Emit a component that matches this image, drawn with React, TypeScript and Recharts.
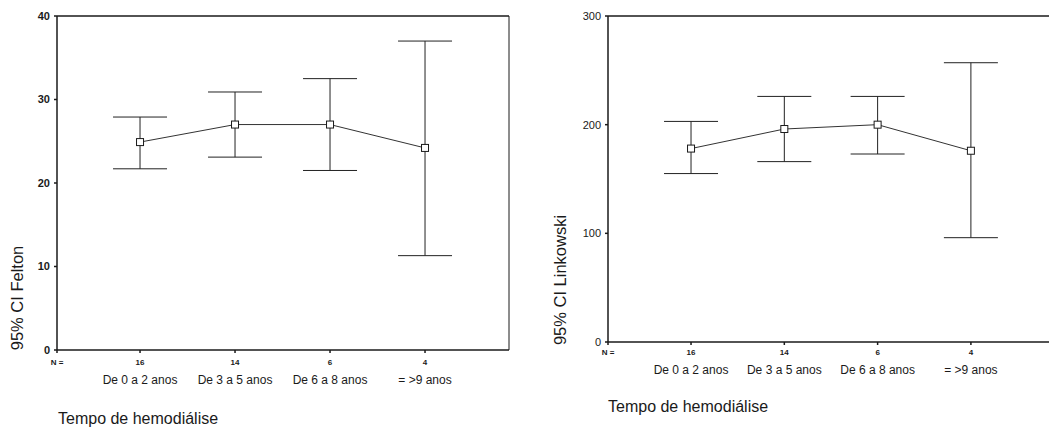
import { ComposedChart, Line, XAxis, YAxis, ErrorBar, ReferenceLine } from "recharts";

const categories = ["De 0 a 2 anos", "De 3 a 5 anos", "De 6 a 8 anos", "= >9 anos"];
const counts = [16, 14, 6, 4];

// Felton: 95% CI
const feltonMean = [24.9, 27.0, 27.0, 24.2];
const feltonLow = [21.7, 23.1, 21.5, 11.3];
const feltonHigh = [27.9, 30.9, 32.5, 37.0];
const feltonTicks = [0, 10, 20, 30, 40];

// Linkowski: 95% CI
const linkMean = [178, 196, 200, 176];
const linkLow = [155, 166, 173, 96];
const linkHigh = [203, 226, 226, 257];
const linkTicks = [0, 100, 200, 300];

const FONT = "'Liberation Sans', Arial, sans-serif";
const INK = "#1a1a1a";

function buildRows(mean: number[], low: number[], high: number[]) {
  return categories.map((c, i) => ({
    x: i + 1,
    name: c,
    mean: mean[i],
    err: [mean[i] - low[i], high[i] - mean[i]],
  }));
}

const SquareDot = (props: any) => {
  const { cx, cy } = props;
  if (cx == null || cy == null) return null;
  return <rect x={cx - 3.5} y={cy - 3.5} width={7} height={7} fill="#fff" stroke={INK} strokeWidth={1} />;
};

function makeTick(nDy: number, catDy: number) {
  return (props: any) => {
    const { x, y, payload } = props;
    const v = payload.value;
    if (v < 0.5) {
      return (
        <text x={x} y={y} dy={nDy} textAnchor="middle" fontSize={8} fontWeight={700} fill={INK} fontFamily={FONT}>
          N =
        </text>
      );
    }
    const i = Math.round(v) - 1;
    return (
      <g>
        <text x={x} y={y} dy={nDy} textAnchor="middle" fontSize={8} fontWeight={700} fill={INK} fontFamily={FONT}>
          {counts[i]}
        </text>
        <text x={x} y={y} dy={catDy} textAnchor="middle" fontSize={12} fill={INK} fontFamily={FONT}>
          {categories[i]}
        </text>
      </g>
    );
  };
}

interface PanelProps {
  rows: any[];
  yTicks: number[];
  yMax: number;
  xDomain: [number, number];
  width: number;
  height: number;
  margin: { top: number; right: number; bottom: number; left: number };
  yWidth: number;
  boldY: boolean;
  nDy: number;
  catDy: number;
  boxRight: boolean;
}

function Panel(p: PanelProps) {
  return (
    <ComposedChart width={p.width} height={p.height} data={p.rows} margin={p.margin}>
      <XAxis
        dataKey="x"
        type="number"
        domain={p.xDomain}
        ticks={[p.xDomain[0], 1, 2, 3, 4]}
        allowDataOverflow
        interval={0}
        height={30}
        tickSize={3}
        tickMargin={0}
        stroke={INK}
        strokeWidth={1.5}
        tick={makeTick(p.nDy, p.catDy)}
      />
      <YAxis
        type="number"
        domain={[0, p.yMax]}
        ticks={p.yTicks}
        width={p.yWidth}
        tickSize={3}
        tickMargin={4}
        stroke={INK}
        strokeWidth={1.5}
        tick={{ fontSize: 11, fontWeight: p.boldY ? 700 : 400, fill: INK, fontFamily: FONT }}
      />
      <ReferenceLine y={p.yMax} stroke={INK} strokeWidth={1.5} ifOverflow="visible" />
      {p.boxRight && <ReferenceLine x={p.xDomain[1]} stroke={INK} strokeWidth={1} ifOverflow="visible" />}
      <Line
        dataKey="mean"
        stroke="#333"
        strokeWidth={1}
        dot={<SquareDot />}
        activeDot={false}
        isAnimationActive={false}
      >
        <ErrorBar dataKey="err" width={27} stroke="#222" strokeWidth={1} direction="y" isAnimationActive={false} />
      </Line>
    </ComposedChart>
  );
}

const txt = { fontFamily: FONT, color: INK, position: "absolute" as const, whiteSpace: "nowrap" as const };

export default function App() {
  return (
    <div style={{ position: "absolute", left: 0, top: 0, width: 1049, height: 430, overflow: "hidden", background: "#fff" }}>
      <div style={{ position: "absolute", left: 0, top: 0 }}>
        <Panel
          rows={buildRows(feltonMean, feltonLow, feltonHigh)}
          yTicks={feltonTicks}
          yMax={40}
          xDomain={[0.126, 4.884]}
          width={520}
          height={430}
          margin={{ top: 16, right: 11, bottom: 50, left: 0 }}
          yWidth={57}
          boldY
          nDy={12}
          catDy={31}
          boxRight
        />
      </div>
      <div style={{ position: "absolute", left: 530, top: 0 }}>
        <Panel
          rows={buildRows(linkMean, linkLow, linkHigh)}
          yTicks={linkTicks}
          yMax={300}
          xDomain={[0.11, 4.88]}
          width={530}
          height={430}
          margin={{ top: 16, right: 7, bottom: 58, left: 0 }}
          yWidth={78}
          boldY={false}
          nDy={10}
          catDy={29}
          boxRight={false}
        />
      </div>
      <div style={{ ...txt, left: 17, top: 298, fontSize: 16.5, transform: "translate(-50%, -50%) rotate(-90deg)" }}>
        95% CI Felton
      </div>
      <div style={{ ...txt, left: 560, top: 280, fontSize: 16.5, transform: "translate(-50%, -50%) rotate(-90deg)" }}>
        95% CI Linkowski
      </div>
      <div style={{ ...txt, left: 58, top: 410, fontSize: 16 }}>Tempo de hemodiálise</div>
      <div style={{ ...txt, left: 608, top: 398, fontSize: 16 }}>Tempo de hemodiálise</div>
    </div>
  );
}
